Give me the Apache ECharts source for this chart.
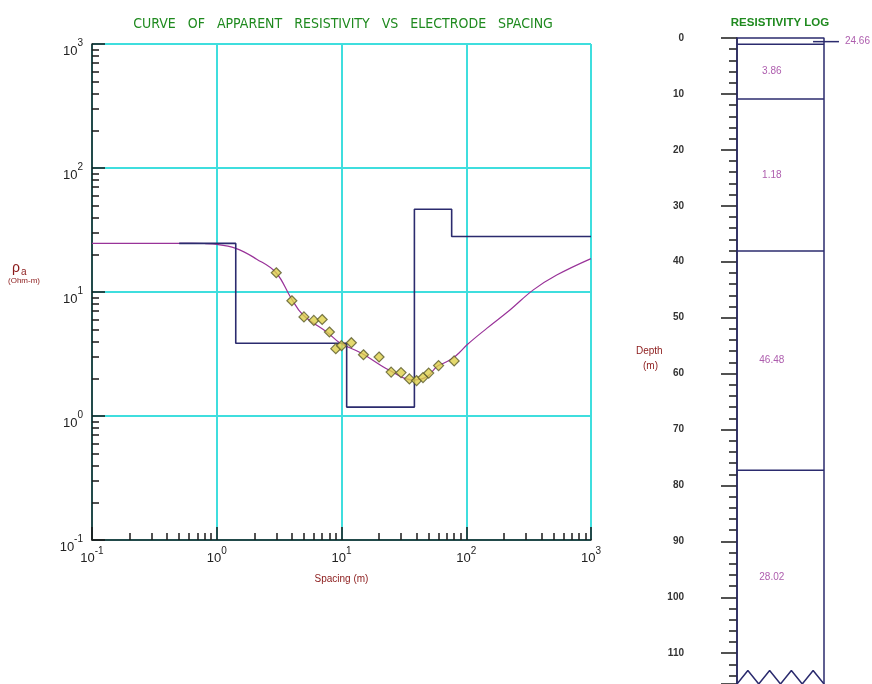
<!DOCTYPE html>
<html><head><meta charset="utf-8">
<script src="https://cdn.jsdelivr.net/npm/echarts@6/dist/echarts.min.js"></script>
<style>html,body{margin:0;padding:0;background:#fff}#c{width:872px;height:684px}</style>
</head><body><div id="c"></div>
<script>
// ---- measured sounding data (AB/2 spacing in m, apparent resistivity in Ohm-m)
const spacingAB2 = [3, 4, 5, 6, 7, 8, 9, 10, 12, 15, 20, 25, 30, 35, 40, 45, 50, 60, 80];
const rhoApparent = [14.3, 8.5, 6.3, 5.9, 6.0, 4.76, 3.49, 3.69, 3.90, 3.12, 2.99, 2.26, 2.24, 1.99, 1.93, 2.04, 2.22, 2.55, 2.78];
// ---- fitted (calculated) curve
const curveSpacing = [0.1, 0.5, 0.8, 0.93, 1.42, 2.09, 2.99, 3.94, 4.92, 7.8, 9.72, 14.5, 24, 38, 48.4, 57.9, 67.6, 78.4, 89, 101, 146, 224, 345, 531, 1000];
const curveRho = [24.66, 24.66, 24.6, 24.4, 22.5, 18.4, 14.3, 8.95, 6.53, 4.67, 3.88, 3.21, 2.35, 1.95, 2.07, 2.50, 2.70, 2.93, 3.28, 3.74, 5.09, 7.16, 10.4, 13.7, 18.6];
// ---- layered model
const layerRho = [24.66, 3.86, 1.18, 46.48, 28.02];
const modelStart = 0.5;
const modelEnd = 1000;
const modelBoundarySpacing = [1.42, 11.0, 38.4, 76.4];
const logBoundaryDepth = [1.1, 10.9, 38.1, 77.3];
const logBottomDepth = 115.5;
const logZigzagPeak = 113.1;
// ---- tick labels
const depthTicks = [0, 10, 20, 30, 40, 50, 60, 70, 80, 90, 100, 110];
const decadeStarts = [0.1, 1, 10, 100];
const minorMultipliers = [2, 3, 4, 5, 6, 7, 8, 9];

const minorLogTicks = [];
decadeStarts.forEach(d => minorMultipliers.forEach(m => minorLogTicks.push(+(d * m).toPrecision(3))));

// model step line
const stepData = [[modelStart, layerRho[0]]];
modelBoundarySpacing.forEach((b, i) => { stepData.push([b, layerRho[i]]); stepData.push([b, layerRho[i + 1]]); });
stepData.push([modelEnd, layerRho[layerRho.length - 1]]);

const GRID_COLOR = '#3fdede';
const AXIS_COLOR = '#1a1a1a';
const NAVY = '#2b2b6e';
const PURPLE = '#993399';
const DARKRED = '#8b1a1a';
const GREEN = '#1f8a1f';

const expRich = {
  b: { fontSize: 13, color: '#222', fontFamily: 'Liberation Sans', lineHeight: 19, verticalAlign: 'bottom' },
  s: { fontSize: 10, color: '#222', fontFamily: 'Liberation Sans', lineHeight: 12, verticalAlign: 'top' }
};
const expFmt = v => '{b|10}{s|' + Math.round(Math.log10(v)) + '}';

const plotRect = { left: 92, top: 44, width: 499, height: 496 };
const logRect = { left: 737, top: 38, width: 135, height: 646 };
const logXMax = 135 / 87;

// right panel series
const logSeries = [];
const logLine = (data) => ({
  type: 'line', xAxisIndex: 2, yAxisIndex: 2, data, symbol: 'none', silent: true,
  lineStyle: { color: NAVY, width: 1.5 }, animation: false, clip: false
});
logSeries.push(logLine([[0, logBottomDepth], [0, 0], [1, 0], [1, logBottomDepth]]));
logBoundaryDepth.forEach(d => logSeries.push(logLine([[0, d], [1, d]])));
const zig = [];
for (let k = 0; k <= 8; k++) zig.push([k / 8, k % 2 === 0 ? logBottomDepth : logZigzagPeak]);
logSeries.push(logLine(zig));
// leader for first layer
const firstMid = logBoundaryDepth[0] / 2 + 0.1;
logSeries.push(logLine([[0.874, firstMid], [1.172, firstMid]]));
const tops = [0].concat(logBoundaryDepth);
const bottoms = logBoundaryDepth.concat([logBottomDepth]);
const labelData = [];
layerRho.forEach((r, i) => {
  if (i === 0) return;
  labelData.push([0.4, (tops[i] + bottoms[i]) / 2, r.toFixed(2)]);
});
logSeries.push({
  type: 'scatter', xAxisIndex: 2, yAxisIndex: 2, symbolSize: 0, data: labelData, silent: true, animation: false,
  label: { show: true, position: 'inside', formatter: p => p.data[2], color: PURPLE, fontSize: 10, fontFamily: 'Liberation Sans' }
});
logSeries.push({
  type: 'scatter', xAxisIndex: 2, yAxisIndex: 2, symbolSize: 0, silent: true, animation: false, clip: false,
  data: [[1.241, firstMid, layerRho[0].toFixed(2)]],
  label: { show: true, position: 'right', distance: 0, formatter: p => p.data[2], color: PURPLE, fontSize: 10, fontFamily: 'Liberation Sans' }
});

const chart = echarts.init(document.getElementById('c'), null, { renderer: 'canvas' });
chart.setOption({
  backgroundColor: '#ffffff',
  animation: false,
  title: [
    { text: 'CURVE   OF   APPARENT   RESISTIVITY   VS   ELECTRODE   SPACING', left: 338, top: 12, textAlign: 'center',
      textStyle: { color: GREEN, fontSize: 14, fontWeight: 'normal', fontFamily: 'DejaVu Sans Condensed, DejaVu Sans' } },
    { text: 'RESISTIVITY LOG', left: 775, top: 12, textAlign: 'center',
      textStyle: { color: GREEN, fontSize: 11.5, fontWeight: 'bold', fontFamily: 'Liberation Sans' } }
  ],
  graphic: [
    { type: 'text', left: 12, top: 261, style: { text: 'ρ', fill: DARKRED, font: '14px "Liberation Sans"' } },
    { type: 'text', left: 21, top: 267, style: { text: 'a', fill: DARKRED, font: '10px "Liberation Sans"' } },
    { type: 'text', left: 8, top: 277, style: { text: '(Ohm-m)', fill: DARKRED, font: '8px "Liberation Sans"' } },
    { type: 'text', left: 636, top: 346, style: { text: 'Depth', fill: DARKRED, font: '10px "Liberation Sans"' } },
    { type: 'text', left: 643, top: 361, style: { text: '(m)', fill: DARKRED, font: '10px "Liberation Sans"' } }
  ],
  grid: [
    Object.assign({}, plotRect),
    Object.assign({}, plotRect),
    Object.assign({}, logRect)
  ],
  xAxis: [
    { type: 'log', logBase: 10, min: 0.1, max: 1000, gridIndex: 0,
      axisLine: { show: true, lineStyle: { color: AXIS_COLOR, width: 1.5 } },
      axisTick: { show: true, inside: true, length: 13, lineStyle: { color: AXIS_COLOR, width: 1.5 } },
      minorTick: { show: false },
      axisLabel: { formatter: expFmt, rich: expRich, margin: 6 },
      splitLine: { show: true, lineStyle: { color: GRID_COLOR, width: 2 } },
      name: 'Spacing (m)', nameLocation: 'middle', nameGap: 34,
      nameTextStyle: { color: DARKRED, fontSize: 10, fontFamily: 'Liberation Sans' } },
    { type: 'log', logBase: 10, min: 0.1, max: 1000, gridIndex: 1,
      axisLine: { show: false },
      axisTick: { show: true, inside: true, length: 7, customValues: minorLogTicks, lineStyle: { color: AXIS_COLOR, width: 1.5 } },
      axisLabel: { show: false }, splitLine: { show: false } },
    { type: 'value', min: 0, max: logXMax, gridIndex: 2, show: false }
  ],
  yAxis: [
    { type: 'log', logBase: 10, min: 0.1, max: 1000, gridIndex: 0,
      axisLine: { show: true, lineStyle: { color: AXIS_COLOR, width: 1.5 } },
      axisTick: { show: true, inside: true, length: 13, lineStyle: { color: AXIS_COLOR, width: 1.5 } },
      minorTick: { show: false },
      axisLabel: { formatter: expFmt, rich: expRich, margin: 9, padding: [8, 0, 0, 0] },
      splitLine: { show: true, lineStyle: { color: GRID_COLOR, width: 2 } } },
    { type: 'log', logBase: 10, min: 0.1, max: 1000, gridIndex: 1,
      axisLine: { show: false },
      axisTick: { show: true, inside: true, length: 7, customValues: minorLogTicks, lineStyle: { color: AXIS_COLOR, width: 1.5 } },
      axisLabel: { show: false }, splitLine: { show: false } },
    { type: 'value', inverse: true, min: 0, max: logBottomDepth, interval: 10, gridIndex: 2, offset: 21,
      axisLine: { show: true, lineStyle: { color: AXIS_COLOR, width: 1.5 } },
      axisTick: { show: true, length: 16, lineStyle: { color: AXIS_COLOR, width: 1.5 } },
      minorTick: { show: true, splitNumber: 5, length: 8, lineStyle: { color: AXIS_COLOR, width: 1.5 } },
      axisLabel: { margin: 32, color: '#333', fontSize: 10, fontWeight: 'bold', fontFamily: 'Liberation Sans',
        customValues: depthTicks },
      splitLine: { show: false } }
  ],
  series: [
    { type: 'line', xAxisIndex: 0, yAxisIndex: 0, data: curveSpacing.map((x, i) => [x, curveRho[i]]),
      symbol: 'none', smooth: 0.4, z: 3, lineStyle: { color: PURPLE, width: 1.2 } },
    { type: 'line', xAxisIndex: 0, yAxisIndex: 0, data: stepData, symbol: 'none', z: 4,
      lineStyle: { color: NAVY, width: 1.6 } },
    { type: 'scatter', xAxisIndex: 0, yAxisIndex: 0, data: spacingAB2.map((x, i) => [x, rhoApparent[i]]),
      symbol: 'diamond', symbolSize: [10, 10], z: 5,
      itemStyle: { color: '#ddd04a', borderColor: '#5a5a2a', borderWidth: 1.2 } }
  ].concat(logSeries)
});
</script>
</body></html>
